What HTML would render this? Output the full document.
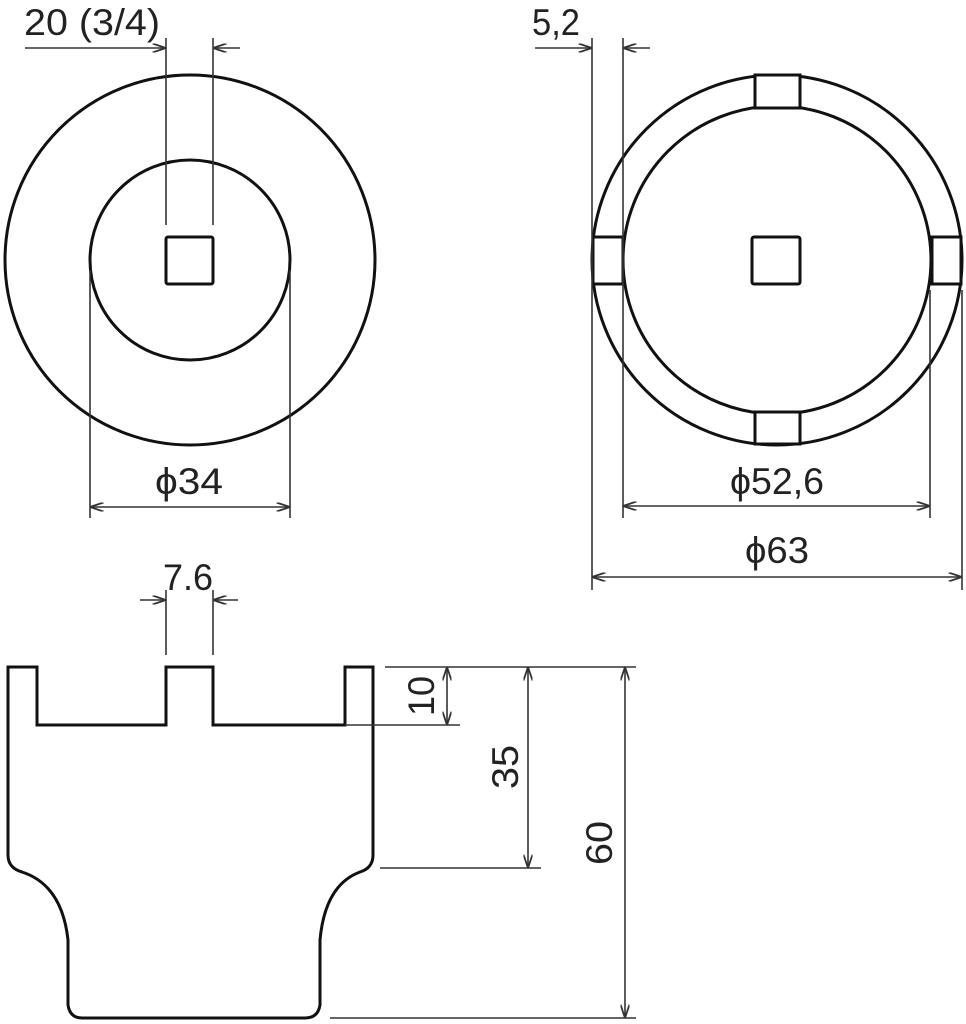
<!DOCTYPE html>
<html><head><meta charset="utf-8"><style>
html,body{margin:0;padding:0;background:#fff;}
svg{display:block;}
text{font-family:"Liberation Sans",sans-serif;font-size:37px;fill:#222;}
</style></head><body>
<svg width="966" height="1024" viewBox="0 0 966 1024" xmlns="http://www.w3.org/2000/svg">
<defs>
<marker id="a" viewBox="0 0 12 8" refX="12" refY="4" markerWidth="14" markerHeight="9" orient="auto-start-reverse" markerUnits="userSpaceOnUse">
<path d="M0,0 L12,4 L0,8" fill="none" stroke="#333" stroke-width="1.6"/>
</marker>
</defs>
<g fill="none" stroke="#111" stroke-width="3">
<circle cx="190" cy="260" r="185"/>
<circle cx="190" cy="260" r="100"/>
<rect x="166" y="237" width="47" height="47" rx="2"/>
<circle cx="777" cy="260" r="185"/>
<circle cx="777" cy="260" r="154"/>
<rect x="752" y="237" width="48" height="47" rx="2"/>
<path d="M8,667 H37 V725 H166 V667 H213 V725 H345 V667 H373 V855 Q373,868 360,872 Q325,885 320,940 V1005 Q318,1018 305,1018 H82 Q70,1018 68,1005 V940 Q62,885 22,872 Q8,868 8,855 Z"/>
</g>
<g fill="#fff" stroke="#111" stroke-width="3">
<rect x="755" y="75" width="45" height="33"/>
<rect x="755" y="412" width="45" height="32"/>
<rect x="593" y="237" width="30" height="47"/>
<rect x="932" y="237" width="29" height="47"/>
</g>
<g fill="none" stroke="#333" stroke-width="1.6">
<line x1="166" y1="38" x2="166" y2="225"/>
<line x1="213" y1="38" x2="213" y2="225"/>
<line x1="25" y1="48" x2="166" y2="48" marker-end="url(#a)"/>
<line x1="240" y1="48" x2="213" y2="48" marker-end="url(#a)"/>
<line x1="90" y1="270" x2="90" y2="518"/>
<line x1="290" y1="270" x2="290" y2="518"/>
<line x1="90" y1="507" x2="290" y2="507" marker-start="url(#a)" marker-end="url(#a)"/>
<line x1="592" y1="38" x2="592" y2="590"/>
<line x1="623" y1="38" x2="623" y2="518"/>
<line x1="535" y1="48" x2="592" y2="48" marker-end="url(#a)"/>
<line x1="650" y1="48" x2="623" y2="48" marker-end="url(#a)"/>
<line x1="930" y1="290" x2="930" y2="518"/>
<line x1="962" y1="290" x2="962" y2="590"/>
<line x1="623" y1="506" x2="930" y2="506" marker-start="url(#a)" marker-end="url(#a)"/>
<line x1="592" y1="577" x2="962" y2="577" marker-start="url(#a)" marker-end="url(#a)"/>
<line x1="166" y1="590" x2="166" y2="655"/>
<line x1="213" y1="590" x2="213" y2="655"/>
<line x1="140" y1="600" x2="166" y2="600" marker-end="url(#a)"/>
<line x1="238" y1="600" x2="213" y2="600" marker-end="url(#a)"/>
<line x1="385" y1="667" x2="636" y2="667"/>
<line x1="345" y1="725" x2="460" y2="725"/>
<line x1="380" y1="868" x2="541" y2="868"/>
<line x1="330" y1="1018" x2="636" y2="1018"/>
<line x1="447" y1="667" x2="447" y2="725" marker-start="url(#a)" marker-end="url(#a)"/>
<line x1="528" y1="667" x2="528" y2="868" marker-start="url(#a)" marker-end="url(#a)"/>
<line x1="625" y1="667" x2="625" y2="1018" marker-start="url(#a)" marker-end="url(#a)"/>
</g>
<text x="24" y="35" textLength="136" lengthAdjust="spacingAndGlyphs">20 (3/4)</text>
<text x="532" y="35" textLength="48" lengthAdjust="spacingAndGlyphs">5,2</text>
<text x="155" y="494" textLength="68" lengthAdjust="spacingAndGlyphs">ϕ34</text>
<text x="730" y="494" textLength="94" lengthAdjust="spacingAndGlyphs">ϕ52,6</text>
<text x="745" y="563" textLength="64" lengthAdjust="spacingAndGlyphs">ϕ63</text>
<text x="163" y="590" textLength="50" lengthAdjust="spacingAndGlyphs">7.6</text>
<text transform="translate(434,716) rotate(-90)" textLength="40" lengthAdjust="spacingAndGlyphs">10</text>
<text transform="translate(518,789) rotate(-90)" textLength="44" lengthAdjust="spacingAndGlyphs">35</text>
<text transform="translate(612,865) rotate(-90)" textLength="44" lengthAdjust="spacingAndGlyphs">60</text>
</svg>
</body></html>
